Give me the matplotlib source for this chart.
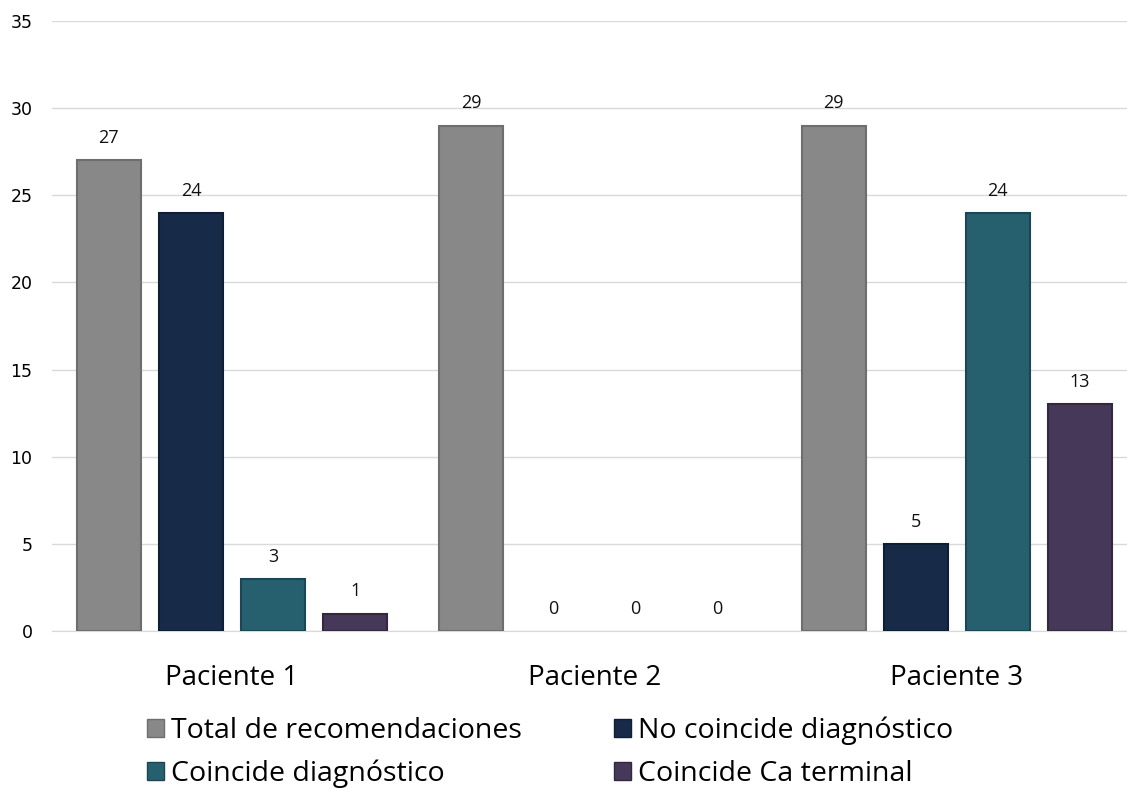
import matplotlib
matplotlib.use("Agg")
import matplotlib.pyplot as plt
import numpy as np

categories = ["Paciente 1", "Paciente 2", "Paciente 3"]
series_names = ["Total de recomendaciones", "No coincide diagnóstico",
                "Coincide diagnóstico", "Coincide Ca terminal"]
total = [27, 29, 29]
no_coincide = [24, 0, 5]
coincide = [3, 0, 24]
ca_terminal = [1, 0, 13]
yticks = [0, 5, 10, 15, 20, 25, 30, 35]

series = [total, no_coincide, coincide, ca_terminal]
colors = ["#888888", "#172B48", "#26606E", "#463858"]
edges = ["#6E6E6E", "#0F1E33", "#1B4754", "#33283F"]

fig = plt.figure(figsize=(11.27, 7.94), dpi=100)
ax = fig.add_axes([0.0461, 0.2053, 0.9539, 0.7683])

x = np.arange(len(categories))
width = 0.177
step = 0.2265
offsets = (np.arange(4) - 1.5) * step

handles = []
for i, (vals, c, ec, name) in enumerate(zip(series, colors, edges, series_names)):
    lws = [1.5 if v > 0 else 0 for v in vals]
    bars = ax.bar(x + offsets[i], vals, width, color=c, edgecolor=ec,
                  linewidth=lws, label=name, zorder=3)
    handles.append(bars)
    for xi, v in zip(x + offsets[i], vals):
        ax.text(xi, v + 0.75, str(v), ha="center", va="bottom",
                fontsize=13, family="Open Sans", color="#111111", zorder=4)

ax.set_ylim(0, 35)
ax.set_xlim(-0.497, 2.47)
ax.set_yticks(yticks)
ax.set_yticklabels([str(t) for t in yticks], fontsize=12.5, family="DejaVu Sans")
ax.yaxis.grid(True, color="#D9D9D9", linewidth=1, zorder=0)
ax.set_axisbelow(True)
ax.set_xticks(x)
ax.set_xticklabels(categories, fontsize=20, family="Open Sans")
ax.tick_params(axis="both", length=0)
ax.tick_params(axis="x", pad=24)
ax.tick_params(axis="y", pad=14)
for s in ["top", "right", "left"]:
    ax.spines[s].set_visible(False)
ax.spines["bottom"].set_color("#D9D9D9")

order = [0, 2, 1, 3]
leg = fig.legend([handles[k] for k in order], [series_names[k] for k in order],
                 loc="upper left", bbox_to_anchor=(0.12, 0.112), ncol=2,
                 frameon=False, prop={"family": "Open Sans", "size": 20.5},
                 handlelength=0.6, handleheight=0.6, handletextpad=0.25,
                 columnspacing=3.25, labelspacing=0.52, borderaxespad=0)
for h in leg.legend_handles:
    h.set_linewidth(1.0)

fig.savefig("out.png", dpi=100)
